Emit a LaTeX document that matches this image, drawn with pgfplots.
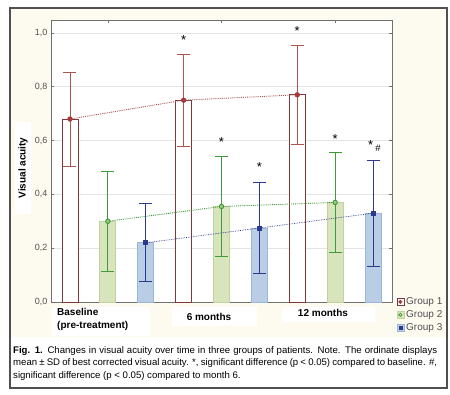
\documentclass[border=0pt]{standalone}
\usepackage{fontspec}
\setmainfont{Liberation Sans}
\usepackage{pgfplots}
\pgfplotsset{compat=1.18}
\definecolor{cream}{HTML}{FDFAF0}
\definecolor{framegray}{HTML}{505050}
\definecolor{axisgray}{HTML}{707070}
\definecolor{gridgray}{HTML}{E4E4E4}
\definecolor{ticktext}{HTML}{505050}
\definecolor{gOneEdge}{HTML}{7E3A3A}
\definecolor{gOneErr}{HTML}{A8564F}
\definecolor{gOneMark}{HTML}{A83A3A}
\definecolor{gTwoFill}{HTML}{D8E4BC}
\definecolor{gTwoEdge}{HTML}{C2D29C}
\definecolor{gTwoErr}{HTML}{3F9A3A}
\definecolor{gThreeFill}{HTML}{B9CDE5}
\definecolor{gThreeEdge}{HTML}{9DB5D6}
\definecolor{gThreeErr}{HTML}{2C3A8E}
\begin{document}
\begin{tikzpicture}
\begin{scope}[x=1pt,y=1pt]
\path (0,0) rectangle (450,394);
\fill[cream] (10,57) rectangle (447,386);
\fill[white] (10,6) rectangle (447,57);
\fill[white] (52,58) rectangle (150,87);
\fill[white] (172,68) rectangle (257,87);
\fill[white] (282,72) rectangle (375,87);
\node[anchor=north west, align=left, inner sep=0, font=\fontsize{10}{13}\selectfont\bfseries] at (57,86) {Baseline\\(pre-treatment)};
\node[font=\fontsize{10}{12}\selectfont\bfseries] at (209,77) {6 months};
\node[font=\fontsize{10}{12}\selectfont\bfseries] at (323,81) {12 months};
\node[rotate=90, fill=white, inner sep=0, minimum width=92pt, minimum height=16pt, font=\fontsize{10}{12}\selectfont\bfseries] at (23,226) {Visual acuity};
\node[anchor=north west, text width=424pt, align=justify, inner sep=0, font=\fontsize{9.6}{12.5}\selectfont] at (13,48)
{\textbf{Fig. 1.} Changes in visual acuity over time in three groups of patients. Note. The ordinate displays\linebreak
mean ± SD of best corrected visual acuity. *, significant difference (p < 0.05) compared to baseline. \#,\linebreak
significant difference (p < 0.05) compared to month 6.};
\end{scope}
\begin{axis}[
  at={(51pt,92pt)}, anchor=south west,
  scale only axis, width=341pt, height=282pt,
  xmin=-0.5, xmax=8.5, ymin=0, ymax=1.048,
  axis background/.style={fill=white},
  axis line style={draw=axisgray, line width=0.9pt},
  ytick={0,0.2,0.4,0.6,0.8,1.0},
  yticklabel style={/pgf/number format/.cd, fixed, fixed zerofill, precision=1, use comma, assume math mode=true},
  ticklabel style={font=\fontsize{9}{10}\selectfont, text=ticktext},
  xtick={1,4,7}, xticklabels={},
  tick align=inside, major tick length=3pt, tick style={draw=axisgray, line width=0.6pt},
  ymajorgrids, grid style={draw=gridgray, line width=0.6pt},
  legend style={at={(axis description cs:1.01,-0.118)}, anchor=south west, draw=none, fill=none,
    font=\fontsize{10}{11}\selectfont, text=ticktext, row sep=0.5pt, cells={anchor=west}, inner sep=1pt},
  clip=false,
]
% bars
\addplot[ybar, bar width=16pt, bar shift=0pt, draw=gOneEdge, fill=white, line width=0.8pt, forget plot]
  coordinates {(0,0.68) (3,0.75) (6,0.77)};
\addplot[ybar, bar width=16pt, bar shift=0pt, draw=gTwoEdge, fill=gTwoFill, line width=0.8pt, forget plot]
  coordinates {(1,0.30) (4,0.355) (7,0.37)};
\addplot[ybar, bar width=16pt, bar shift=0pt, draw=gThreeEdge, fill=gThreeFill, line width=0.8pt, forget plot]
  coordinates {(2,0.22) (5,0.275) (8,0.33)};
% lines with error bars
\addplot[forget plot, gOneErr, densely dotted, line width=0.9pt, mark=*, mark size=2.2pt,
  mark options={solid, fill=gOneMark, draw=gOneMark},
  error bars/.cd, y dir=both, y explicit,
  error bar style={solid, gOneErr, line width=0.8pt},
  error mark options={rotate=90, mark size=6.5pt, solid, gOneErr, line width=0.8pt}]
  coordinates {(0,0.68) +- (0,0.175) (3,0.75) +- (0,0.17) (6,0.77) +- (0,0.183)};
\addplot[forget plot, gTwoErr, densely dotted, line width=0.9pt, mark=*, mark size=2.2pt,
  mark options={solid, fill=gTwoFill!60!gTwoErr, draw=gTwoErr},
  error bars/.cd, y dir=both, y explicit,
  error bar style={solid, gTwoErr, line width=0.8pt},
  error mark options={rotate=90, mark size=6.5pt, solid, gTwoErr, line width=0.8pt}]
  coordinates {(1,0.30) +- (0,0.185) (4,0.355) +- (0,0.185) (7,0.37) +- (0,0.185)};
\addplot[forget plot, gThreeErr, densely dotted, line width=0.7pt, mark=square*, mark size=2pt,
  mark options={solid, fill=gThreeErr, draw=gThreeErr},
  error bars/.cd, y dir=both, y explicit,
  error bar style={solid, gThreeErr, line width=0.8pt},
  error mark options={rotate=90, mark size=6.5pt, solid, gThreeErr, line width=0.8pt}]
  coordinates {(2,0.22) +- (0,0.145) (5,0.275) +- (0,0.17) (8,0.33) +- (0,0.197)};
% significance marks
\node[font=\fontsize{13}{14}\selectfont, inner sep=0] at (axis cs:3,0.974) {*};
\node[font=\fontsize{13}{14}\selectfont, inner sep=0] at (axis cs:6,1.007) {*};
\node[font=\fontsize{13}{14}\selectfont, inner sep=0] at (axis cs:4,0.595) {*};
\node[font=\fontsize{13}{14}\selectfont, inner sep=0] at (axis cs:5,0.502) {*};
\node[font=\fontsize{13}{14}\selectfont, inner sep=0] at (axis cs:7,0.606) {*};
\node[font=\fontsize{13}{14}\selectfont, inner sep=0] at (axis cs:7.94,0.585) {*};
\node[font=\fontsize{9.5}{10}\selectfont, inner sep=0] at (axis cs:8.13,0.572) {\#};
% legend
\addlegendimage{legend image code/.code={\draw[gOneEdge, fill=white, line width=0.6pt] (0pt,-3.5pt) rectangle (7pt,3.5pt); \fill[gOneMark] (3.5pt,0pt) circle (1.8pt);}}
\addlegendentry{Group 1}
\addlegendimage{legend image code/.code={\draw[gTwoEdge, fill=gTwoFill, line width=0.6pt] (0pt,-3.5pt) rectangle (7pt,3.5pt); \draw[gTwoErr, line width=0.8pt] (3.5pt,0pt) circle (1.6pt);}}
\addlegendentry{Group 2}
\addlegendimage{legend image code/.code={\draw[gThreeEdge, fill=gThreeFill, line width=0.6pt] (0pt,-3.5pt) rectangle (7pt,3.5pt); \fill[gThreeErr] (2pt,-1.5pt) rectangle (5pt,1.5pt);}}
\addlegendentry{Group 3}
\end{axis}
\begin{scope}[x=1pt,y=1pt]
\draw[framegray, line width=1.2pt] (10,6) rectangle (447,386);
\end{scope}
\end{tikzpicture}
\end{document}
